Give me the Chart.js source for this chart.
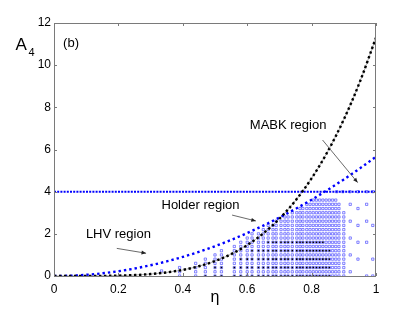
<!DOCTYPE html>
<html><head><meta charset="utf-8">
<script src="https://cdn.jsdelivr.net/npm/chart.js@4.4.1/dist/chart.umd.min.js"></script>
<style>html,body{margin:0;padding:0;background:#fff;}canvas{display:block}</style>
</head><body>
<canvas id="c" width="415" height="311"></canvas>
<script>
// ---- data ----
const curveEta    = [0,0.05,0.1,0.15,0.2,0.25,0.3,0.35,0.4,0.45,0.5,0.55,0.6,0.65,0.7,0.75,0.8,0.85,0.9,0.95,1];
const mabkCurve   = [0,0.0001,0.001,0.006,0.018,0.044,0.092,0.17,0.29,0.464,0.707,1.035,1.466,2.019,2.716,3.579,4.634,5.906,7.421,9.213,11.31];
const holderCurve = [0,0.014,0.057,0.127,0.226,0.354,0.509,0.693,0.905,1.146,1.414,1.711,2.036,2.39,2.772,3.182,3.62,4.087,4.582,5.105,5.657];
const lhvEta   = [0,1];
const lhvLevel = [4,4];
const xTicks = [0,0.2,0.4,0.6,0.8,1];
const xTickLabels = ['0','0.2','0.4','0.6','0.8','1'];
const yTicks = [0,2,4,6,8,10,12];
const yTickLabels = ['0','2','4','6','8','10','12'];
// scatter: columns of states (eta), highest level in each column, levels spaced by rowStep
const scatEta  = [0.39,0.44,0.47,0.50,0.52,0.56,0.58,0.60,0.615,0.635,0.65,0.665,0.68,0.69,0.705,0.717,0.727,0.74,0.754,0.764,0.773,0.785,0.795,0.805,0.815,0.825,0.835,0.845,0.855,0.865,0.875,0.885,0.90];
const scatTop  = [0.4,0.6,0.8,1.0,1.2,1.4,1.6,1.8,2.0,2.0,2.2,2.4,2.4,2.6,2.6,2.8,2.8,3.0,3.0,3.2,3.2,3.4,3.4,3.6,3.6,3.6,3.6,3.6,3.6,3.6,3.6,3.4,3.0];
const blackTop = [-1,-1,0.2,0.4,0.4,0.6,0.8,1.0,1.2,1.2,1.4,1.6,1.6,1.8,1.8,1.8,1.8,1.8,1.8,1.8,1.8,1.8,1.8,1.6,1.6,1.6,1.6,1.4,1.4,-1,-1,-1,-1];
const rowStep = 0.2;
const extraEta = [0.334,0.92,0.92,0.92,0.92,0.92,0.944,0.944,0.944,0.944,0.971,0.971,0.971,0.971,0.99,0.99,0.99,0.878,0.897,0.919,0.944,0.971,0.99];
const extraA4  = [0.24,3.4,2.6,1.8,1.0,0.2,3.2,2.4,1.6,0.8,3.4,2.6,1.6,0.0,2.4,0.8,0.0,4,4,4,4,4,4];

// ---- build chart data from arrays ----
const curvePts = (ys) => curveEta.map((x,i)=>({x:x,y:ys[i]}));
const bluePts = [], blackPts = [];
scatEta.forEach((x,i)=>{
  const n = Math.round(scatTop[i]/rowStep);
  for(let k=0;k<=n;k++) bluePts.push({x:x,y:+(k*rowStep).toFixed(2)});
  const m = Math.round(blackTop[i]/rowStep);
  for(let k=0;k<=m;k+=2) blackPts.push({x:x,y:+(k*rowStep).toFixed(2)});
});
extraEta.forEach((x,i)=>bluePts.push({x:x,y:extraA4[i]}));

const FONT = "'Liberation Sans', Arial, Helvetica, sans-serif";
const AXC = '#7a7a7a';

const decor = {
  id:'decor',
  afterDraw(chart){
    const ctx = chart.ctx, a = chart.chartArea, xs = chart.scales.x, ys = chart.scales.y;
    ctx.save();
    ctx.strokeStyle = AXC; ctx.lineWidth = 1;
    ctx.strokeRect(a.left+0.5, a.top+0.5, a.right-a.left-1, a.bottom-a.top);
    ctx.beginPath();
    xTicks.forEach(v=>{const p=Math.round(xs.getPixelForValue(v))+0.5;
      ctx.moveTo(p,a.bottom); ctx.lineTo(p,a.bottom-3); ctx.moveTo(p,a.top); ctx.lineTo(p,a.top+3);});
    yTicks.forEach(v=>{const p=Math.round(ys.getPixelForValue(v))+0.5;
      ctx.moveTo(a.left,p); ctx.lineTo(a.left+3,p); ctx.moveTo(a.right,p); ctx.lineTo(a.right-3,p);});
    ctx.stroke();
    ctx.fillStyle = '#000'; ctx.textBaseline='middle';
    const txt=(s,x,y,size,align)=>{ctx.font=size+'px '+FONT;ctx.textAlign=align||'center';
      ctx.fillText(s, xs.getPixelForValue(x), ys.getPixelForValue(y));};
    txt('(b)',0.053,11.05,13,'center');
    txt('MABK region',0.727,7.12,13);
    txt('Holder region',0.455,3.37,13);
    txt('LHV region',0.2,1.99,13);
    const arrow=(x1,y1,x2,y2)=>{
      const X1=xs.getPixelForValue(x1),Y1=ys.getPixelForValue(y1),X2=xs.getPixelForValue(x2),Y2=ys.getPixelForValue(y2);
      const ang=Math.atan2(Y2-Y1,X2-X1), h=5;
      ctx.strokeStyle='#444'; ctx.lineWidth=0.8;
      ctx.beginPath(); ctx.moveTo(X1,Y1); ctx.lineTo(X2,Y2); ctx.stroke();
      ctx.fillStyle='#222';
      ctx.beginPath(); ctx.moveTo(X2,Y2);
      ctx.lineTo(X2-h*Math.cos(ang-0.4),Y2-h*Math.sin(ang-0.4));
      ctx.lineTo(X2-h*Math.cos(ang+0.4),Y2-h*Math.sin(ang+0.4));
      ctx.closePath(); ctx.fill();
    };
    arrow(0.834,6.45,0.943,4.43);
    arrow(0.553,2.89,0.627,2.61);
    arrow(0.195,1.31,0.286,1.08);
    ctx.fillStyle='#000'; ctx.textBaseline='alphabetic'; ctx.textAlign='left';
    ctx.font='17px '+FONT; ctx.fillText('A',15.5,49.5);
    ctx.font='11px '+FONT; ctx.fillText('4',28.5,55.5);
    ctx.font='16px '+FONT; ctx.textAlign='center'; ctx.fillText('η',(a.left+a.right)/2,302);
    ctx.restore();
  }
};

new Chart(document.getElementById('c'),{
  type:'scatter',
  data:{datasets:[
    {label:'MABK', type:'line', data:curvePts(mabkCurve), borderColor:'#000', borderWidth:2.4, borderDash:[2.4,2.6],
      pointRadius:0, cubicInterpolationMode:'monotone', fill:false, order:0},
    {label:'MABK thin', type:'line', data:curvePts(mabkCurve), borderColor:'#9a9a9a', borderWidth:0.8,
      pointRadius:0, cubicInterpolationMode:'monotone', fill:false, order:1},
    {label:'Holder', type:'line', data:curvePts(holderCurve), borderColor:'#0000ff', borderWidth:2.4, borderDash:[2.4,3],
      pointRadius:0, cubicInterpolationMode:'monotone', fill:false, order:0},
    {label:'LHV', type:'line', data:lhvEta.map((x,i)=>({x:x,y:lhvLevel[i]})), borderColor:'#0000ff', borderWidth:2, borderDash:[2,1.2],
      pointRadius:0, fill:false, order:0},
    {label:'black states', data:blackPts, pointStyle:'rect', pointRadius:1.1, backgroundColor:'#000', borderColor:'#000', borderWidth:0, order:3},
    {label:'states', data:bluePts, pointStyle:'rect', pointRadius:1.6, backgroundColor:'rgba(255,255,255,0)', borderColor:'rgba(40,40,255,0.7)', borderWidth:0.8, order:4}
  ]},
  options:{
    responsive:false, animation:false, devicePixelRatio:1,
    layout:{padding:{left:0,top:23,right:39,bottom:0}},
    plugins:{legend:{display:false},tooltip:{enabled:false}},
    scales:{
      x:{type:'linear',min:0,max:1,
        afterBuildTicks:(s)=>{s.ticks=xTicks.map(v=>({value:v}));},
        afterFit:(s)=>{s.height=35;},
        grid:{display:false,drawTicks:false}, border:{display:false},
        ticks:{padding:6,color:'#000',font:{family:FONT,size:12},maxRotation:0,autoSkip:false,
          callback:(v)=>xTickLabels[xTicks.indexOf(v)]}},
      y:{type:'linear',min:0,max:12,
        afterBuildTicks:(s)=>{s.ticks=yTicks.map(v=>({value:v}));},
        afterFit:(s)=>{s.width=54;},
        grid:{display:false,drawTicks:false}, border:{display:false},
        ticks:{padding:3,color:'#000',font:{family:FONT,size:12},autoSkip:false,
          callback:(v)=>yTickLabels[yTicks.indexOf(v)]}}
    }
  },
  plugins:[decor]
});
</script>
</body></html>
